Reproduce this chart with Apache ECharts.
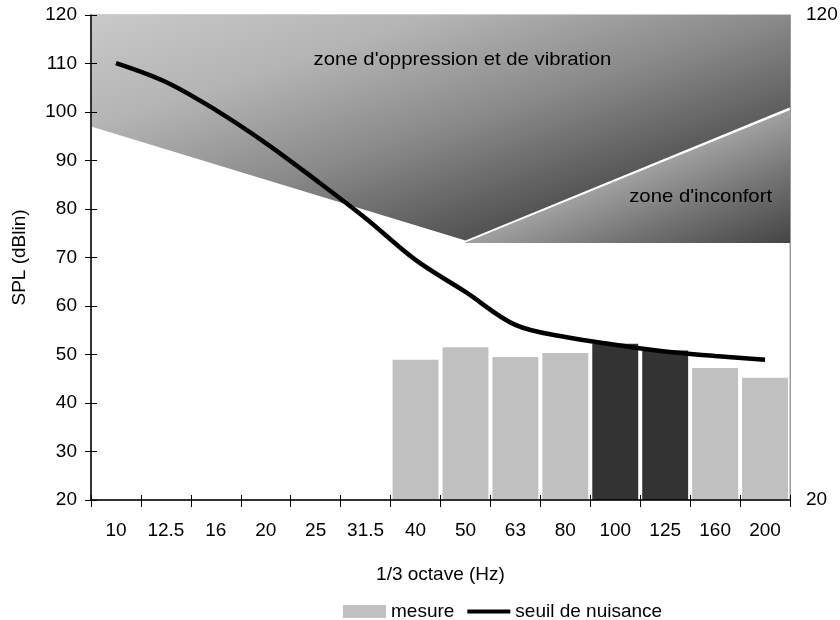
<!DOCTYPE html>
<html>
<head>
<meta charset="utf-8">
<script src="https://cdn.jsdelivr.net/npm/echarts@6/dist/echarts.min.js"></script>
<style>
  html, body { margin: 0; padding: 0; background: #fff; }
  #chart { width: 840px; height: 620px; }
</style>
</head>
<body>
<div id="chart"></div>
<script>
// ---- data ----
const categories = ['10', '12.5', '16', '20', '25', '31.5', '40', '50', '63', '80', '100', '125', '160', '200'];
const mesure = [null, null, null, null, null, null, 48.9, 51.5, 49.5, 50.3, 52.2, 50.8, 47.2, 45.2];
const seuil = [110.1, 106.2, 100.4, 93.6, 86.0, 78.1, 69.5, 62.9, 56.1, 53.6, 52.0, 50.6, 49.7, 48.9];
const highlighted = ['100', '125'];
const yTicks = { min: 20, max: 120, step: 10 };
// zones: vertices in [category position, dB]
const zoneOppression = [[-0.5, 120], [13.5, 120], [13.5, 101], [7, 73.5], [-0.5, 97]];
const zoneInconfort = [[6.95, 73], [13.5, 100.5], [13.5, 73]];
const zoneNames = ["zone d'oppression et de vibration", "zone d'inconfort"];
const zoneLabelPos = [[6.94, 110.7], [11.71, 82.5]];

const FONT = '"Liberation Sans", Arial, sans-serif';
const zones = [zoneOppression, zoneInconfort];

const chart = echarts.init(document.getElementById('chart'), null, { renderer: 'canvas' });

const gradStops = [
  [
    { offset: 0, color: '#c9c9c9' },
    { offset: 0.25, color: '#b4b4b4' },
    { offset: 0.5, color: '#8a8a8a' },
    { offset: 0.75, color: '#555555' },
    { offset: 1, color: '#3c3c3c' }
  ],
  [
    { offset: 0, color: '#cccccc' },
    { offset: 0.5, color: '#a0a0a0' },
    { offset: 0.75, color: '#707070' },
    { offset: 1, color: '#444444' }
  ]
];

function renderZone(params, api) {
  const i = api.value(0);
  const pts = zones[i].map(p => api.coord(p));
  const xs = pts.map(p => p[0]), ys = pts.map(p => p[1]);
  const x0 = Math.min(...xs), y0 = Math.min(...ys);
  const W = Math.max(...xs) - x0, H = Math.max(...ys) - y0;
  const k = 2 * W * H / (H * H + W * W);
  const fill = new echarts.graphic.LinearGradient(x0, y0, x0 + H * k, y0 + W * k, gradStops[i], true);
  const lp = api.coord(zoneLabelPos[i]);
  const children = [
    { type: 'polygon', shape: { points: pts }, style: { fill: fill, stroke: null } }
  ];
  if (i === 1) {
    children.push({ type: 'polyline', shape: { points: [pts[0], pts[1]] }, style: { stroke: '#ffffff', lineWidth: 1, fill: null } });
  }
  children.push({
    type: 'text', x: lp[0], y: lp[1], scaleX: 1.07, originX: 0, originY: 0,
    style: { text: zoneNames[i], fill: '#000', font: '19px ' + FONT, align: 'center', verticalAlign: 'middle' }
  });
  return { type: 'group', children: children };
}

const option = {
  animation: false,
  backgroundColor: '#ffffff',
  textStyle: { fontFamily: FONT, color: '#000' },
  grid: { left: 91, right: 50, top: 15, bottom: 120, show: true, borderColor: '#9a9a9a', borderWidth: 1, backgroundColor: 'transparent', outerBoundsMode: 'none' },
  legend: {
    left: 343, top: 602, padding: 0,
    itemWidth: 43, itemHeight: 13, itemGap: 13,
    symbolKeepAspect: false,
    textStyle: { fontSize: 19, color: '#000', fontFamily: FONT },
    data: [
      { name: 'mesure', icon: 'rect' },
      { name: 'seuil de nuisance', icon: 'path://M0,0H100V0.4H0Z M0,34H100V66H0Z M0,99.6H100V100H0Z' }
    ]
  },
  xAxis: [
    {
      type: 'category', data: categories, position: 'bottom', boundaryGap: true,
      axisLine: { show: true, onZero: false, lineStyle: { color: '#000', width: 1.5 } },
      axisTick: { show: true, interval: 0, length: 7, lineStyle: { color: '#000' } },
      axisLabel: { interval: 0, fontSize: 19, color: '#000', margin: 21, fontFamily: FONT },
      name: '1/3 octave (Hz)', nameLocation: 'middle', nameGap: 65,
      nameTextStyle: { fontSize: 19, color: '#000', fontFamily: FONT },
      splitLine: { show: false }, z: 10
    },
    {
      type: 'category', data: categories, position: 'bottom', boundaryGap: true,
      axisLine: { show: false, onZero: false },
      axisTick: { show: true, inside: true, interval: 0, length: 5, lineStyle: { color: '#000' } },
      axisLabel: { show: false }, splitLine: { show: false }, z: 10
    },
    { type: 'value', min: -0.5, max: 13.5, show: false, axisLine: { onZero: false } }
  ],
  yAxis: [
    {
      type: 'value', min: yTicks.min, max: yTicks.max, interval: yTicks.step, position: 'left',
      axisLine: { show: true, onZero: false, lineStyle: { color: '#000', width: 1.5 } },
      axisTick: { show: true, length: 6, lineStyle: { color: '#000' } },
      axisLabel: { fontSize: 19, color: '#000', margin: 14, fontFamily: FONT },
      splitLine: { show: false },
      name: 'SPL (dBlin)', nameLocation: 'middle', nameGap: 62, nameRotate: 90,
      nameTextStyle: { fontSize: 19, color: '#000', fontFamily: FONT }, z: 10
    },
    {
      type: 'value', min: yTicks.min, max: yTicks.max, interval: yTicks.max - yTicks.min, position: 'right',
      axisLine: { show: true, onZero: false, lineStyle: { color: '#9a9a9a', width: 1 } },
      axisTick: { show: false },
      axisLabel: { fontSize: 19, color: '#000', margin: 16, fontFamily: FONT },
      splitLine: { show: false }
    },
    {
      type: 'value', min: yTicks.min, max: yTicks.max, interval: yTicks.step, position: 'left',
      axisLine: { show: false, onZero: false },
      axisTick: { show: true, inside: true, length: 6, lineStyle: { color: '#000' } },
      axisLabel: { show: false }, splitLine: { show: false }, z: 10
    }
  ],
  series: [
    {
      type: 'custom', name: 'zones', xAxisIndex: 2, yAxisIndex: 0,
      data: zones.map((z, i) => [i]), renderItem: renderZone, z: 1, silent: true
    },
    {
      type: 'bar', name: 'mesure', xAxisIndex: 0, yAxisIndex: 0,
      barCategoryGap: '8%', z: 2,
      itemStyle: { color: '#c0c0c0' },
      data: mesure.map((v, i) => v === null ? null : {
        value: v,
        itemStyle: { color: highlighted.includes(categories[i]) ? '#333333' : '#c0c0c0' }
      })
    },
    {
      type: 'line', name: 'seuil de nuisance', xAxisIndex: 0, yAxisIndex: 0,
      data: seuil, smooth: 0.35, symbol: 'none', z: 5,
      lineStyle: { color: '#000', width: 4.5 },
      itemStyle: { color: '#000' }
    }
  ]
};
chart.setOption(option);
</script>
</body>
</html>
